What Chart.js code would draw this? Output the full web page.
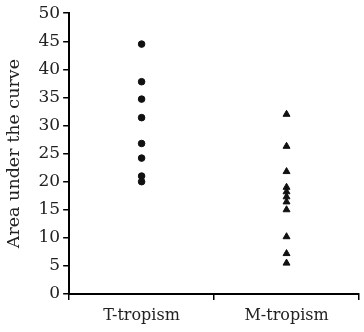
<!DOCTYPE html>
<html><head><meta charset="utf-8">
<script src="https://cdn.jsdelivr.net/npm/chart.js@4"></script>
<style>html,body{margin:0;padding:0;background:#fff}#w{width:364px;height:332px}</style>
</head><body><div id="w"><canvas id="c"></canvas></div>
<script>
const categories = ['T-tropism', 'M-tropism'];
const tValues = [44.5, 37.8, 34.7, 31.4, 26.8, 24.2, 21.0, 20.0];
const mValues = [32.0, 26.3, 21.8, 19.0, 18.2, 17.3, 16.4, 15.0, 10.2, 7.2, 5.5];
const yTicks = [0, 5, 10, 15, 20, 25, 30, 35, 40, 45, 50];

const ff = "'DejaVu Serif',serif";
new Chart(document.getElementById('c'), {
  type: 'line',
  data: {
    labels: categories,
    datasets: [
      { data: tValues.map(v => ({x: categories[0], y: v})), showLine: false,
        pointStyle: 'circle', pointRadius: 3.3, backgroundColor: '#111', borderColor: '#111' },
      { data: mValues.map(v => ({x: categories[1], y: v})), showLine: false,
        pointStyle: 'triangle', pointRadius: 4, backgroundColor: '#111', borderColor: '#111' }
    ]
  },
  options: {
    responsive: true, maintainAspectRatio: false, animation: false,
    layout: { padding: { top: 10, right: 0, left: 6, bottom: 0 } },
    plugins: { legend: { display: false }, tooltip: { enabled: false } },
    scales: {
      x: {
        type: 'category', offset: true,
        grid: { offset: true, drawOnChartArea: false, drawTicks: true, tickLength: 6, color: '#000', lineWidth: 1.5 },
        border: { color: '#000', width: 2 },
        ticks: { color: '#222', font: { family: ff, size: 16, lineHeight: 1 }, padding: 8 }
      },
      y: {
        min: 0, max: 50,
        afterBuildTicks: s => { s.ticks = yTicks.map(v => ({value: v})); },
        grid: { drawOnChartArea: false, drawTicks: true, tickLength: 6, color: '#000', lineWidth: 1.5 },
        border: { color: '#000', width: 2 },
        ticks: { color: '#222', font: { family: ff, size: 17 }, padding: 3 },
        title: { display: true, text: 'Area under the curve', color: '#222', font: { family: ff, size: 17.5, lineHeight: 1 }, padding: { top: 0, bottom: 12 } }
      }
    }
  }
});
</script></body></html>
